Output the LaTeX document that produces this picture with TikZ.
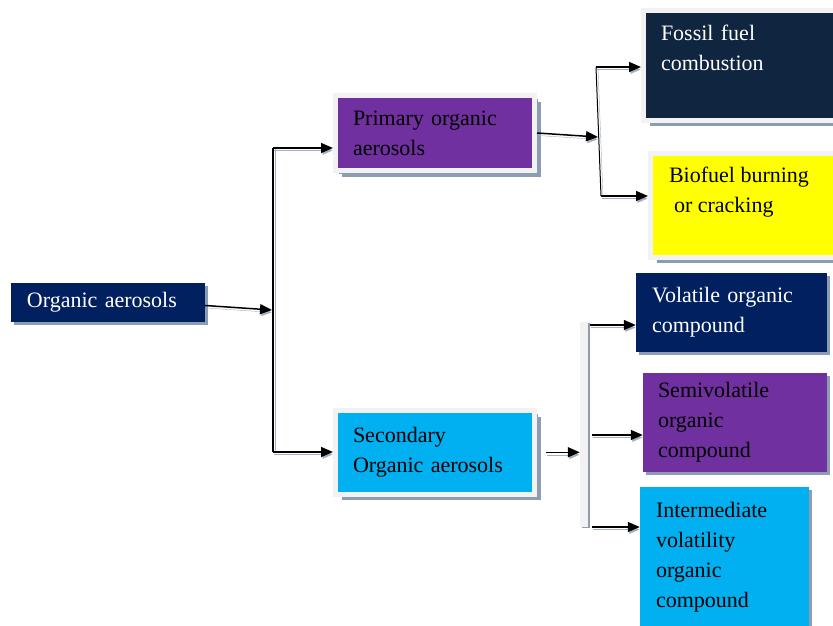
\documentclass[tikz,border=0pt]{standalone}
\usepackage{fontspec}
\setmainfont{Liberation Serif}
\usetikzlibrary{positioning,shadows,arrows.meta}
\definecolor{aeronavy}{RGB}{0,32,96}
\definecolor{aerodark}{RGB}{16,37,63}
\definecolor{aeropurple}{RGB}{112,48,160}
\definecolor{aerocyan}{RGB}{0,176,240}
\definecolor{aeroyellow}{RGB}{255,255,0}
\definecolor{aeroframe}{RGB}{242,242,242}
\definecolor{aeroshadow}{RGB}{140,156,178}
\tikzset{
    box/.style={rectangle, inner ysep=0pt, align=left, font=\fontsize{22}{30}\selectfont,
        drop shadow={shadow xshift=3pt, shadow yshift=-3pt, fill=aeroshadow, opacity=1}},
    boxF/.style={box, draw=aeroframe, line width=5pt, inner xsep=17.5pt,
        drop shadow={shadow xshift=6pt, shadow yshift=-6pt, fill=aeroshadow, opacity=1}},
    arr/.style={-{Triangle[length=12pt,width=10pt]}, line width=1.5pt,
        preaction={draw=aeroshadow!80, transform canvas={shift={(1pt,-2.5pt)}}}},
    bus/.style={line width=1.5pt,
        preaction={draw=aeroshadow!80, transform canvas={shift={(2pt,-1pt)}}}},
}
\begin{document}
\begin{tikzpicture}[x=1pt, y=-1pt]
    \clip (0,0) rectangle (833,625);
    \fill[white] (0,0) rectangle (833,625);
    % Boxes
    \node[box, fill=aeronavy, text=white, inner xsep=16pt, text width=162pt, minimum height=39pt] (org) at (108,302.5) {Organic aerosols};
    \node[boxF, fill=aeropurple, text width=164pt, minimum height=75pt] (prim) at (435,133) {Primary organic\\aerosols};
    \node[boxF, fill=aerocyan, text width=164pt, minimum height=83.5pt] (sec) at (435,452.25) {Secondary\\Organic aerosols};
    \node[boxF, fill=aerodark, text=white, text width=171.5pt, minimum height=109.5pt] (foss) at (746.75,65.25) {Fossil fuel\\combustion\par\vspace*{34pt}};
    \node[boxF, fill=aeroyellow, inner xsep=18.5pt, minimum height=104pt] (bio) at (750.25,205)
        {\parbox[c][104pt][t]{162.5pt}{\vspace{14pt}Biofuel burning\\\hspace*{5pt}or cracking}};
    \node[box, fill=aeronavy, text=white, inner xsep=16pt, text width=159pt, minimum height=79pt] (vol) at (731.5,312.5) {Volatile organic\\compound};
    \node[box, fill=aeropurple, inner xsep=15pt, text width=154pt, minimum height=99pt] (semi) at (735,422.5) {Semivolatile\\organic\\compound};
    \node[box, fill=aerocyan, inner xsep=16pt, text width=137pt, minimum height=141pt] (inter) at (724.5,557.5) {Intermediate\\volatility\\organic\\compound};
    % Bar of the secondary branch
    \node[rectangle, fill=aeroframe, minimum width=8pt, minimum height=205pt, inner sep=0pt,
        drop shadow={shadow xshift=2pt, shadow yshift=-1pt, fill=aeroshadow, opacity=1}] (busC) at (584,424.5) {};
    % Branch points
    \coordinate (busAtop) at (273,148);
    \coordinate (busAmid) at (272,310);
    \coordinate (busAbot) at (273,452);
    \coordinate (busBtop) at (596,67);
    \coordinate (busBmid) at (598,137);
    \coordinate (busBbot) at (601,196);
    \coordinate (cv) at (590,325);
    \coordinate (cs) at (592,435);
    \coordinate (ci) at (592,527);
    % Vertical bars
    \draw[bus] (busAtop) -- (busAbot);
    \draw[bus, line width=1pt] (busBtop) -- (busBbot);
    % Arrows
    \draw[arr] ([yshift=-3pt]org.east) -- (busAmid);
    \draw[arr] (busAtop) -- (busAtop -| prim.west);
    \draw[arr] (busAbot) -- (busAbot -| sec.west);
    \draw[arr] (prim.east) -- (busBmid);
    \draw[arr] (busBtop) -- (busBtop -| foss.west);
    \draw[arr] (busBbot) -- (busBbot -| bio.west);
    \draw[arr] ([xshift=9pt]sec.east) -- (sec.east -| busC.west);
    \draw[arr] (cv) -- (cv -| vol.west);
    \draw[arr] (cs) -- (cs -| semi.west);
    \draw[arr] (ci) -- (ci -| inter.west);
\end{tikzpicture}
\end{document}
